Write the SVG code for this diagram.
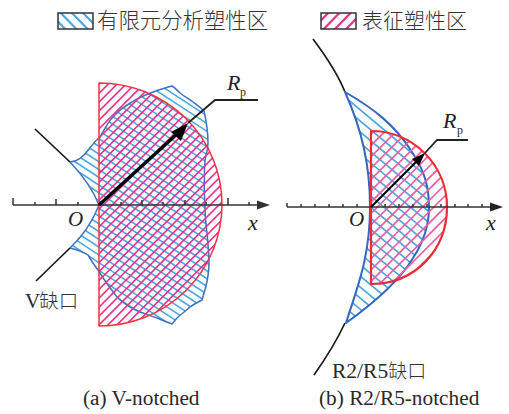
<svg xmlns="http://www.w3.org/2000/svg" width="509" height="414" viewBox="0 0 509 414">
<style>
.blue{fill:none;stroke:#3d72bf;stroke-width:1.5;stroke-linejoin:round}
.blue2{fill:none;stroke:#3268bd;stroke-width:2;stroke-linejoin:round}
.red{fill:none;stroke:#ee3340;stroke-width:1.5;stroke-linejoin:round}
.red2{fill:none;stroke:#ee2a35;stroke-width:2.2;stroke-linejoin:round}
.hb{fill:none;stroke:#4aa8e4}
.hp{fill:none;stroke:#ea2f8c}
.k{fill:none;stroke:#1a1a1a;stroke-width:1.7}
.ax{fill:none;stroke:#333;stroke-width:1.5}
.cn{font-family:"Noto Sans CJK SC",sans-serif;font-weight:300;fill:#333}
.lat{font-family:"Liberation Serif",serif;fill:#2a2a2a}
.it{font-family:"Liberation Serif",serif;font-style:italic;fill:#222}
</style>
<defs>
<path id="sb1" d="M99,205C94,192 85,178 70,162C78,162 84,156 89,149C93,144 96,140 100,137C104,130 108,122 113,117C119,110 125,106 132,102C138,98 143,96 148,94C155,91 162,89 172,86C174,87 177,90 180,93C185,97 189,99 193,102C197,105 200,107 204,111C206,120 208,132 208,143C208,150 206,155 205,160C204,175 204,190 205,207C205,216 206,225 207,233C208,243 209,253 209,263C209,280 205,290 202,300C198,302 194,304 190,307C186,311 181,314 177,318C175,320 174,322 172,324C166,322 162,320 157,318C150,316 146,314 140,312C130,308 123,303 117,297C110,288 104,280 98,270C94,265 91,260 88,255C85,253 78,250 70,248C78,240 84,234 90,223C94,217 96,212 99,205Z"/>
<path id="sr1" d="M99,83A123,121.500 0 0 1 222,204.500A123,121.500 0 0 1 99,326Z"/>
<path id="sb2" d="M345,92C373,108 395,125 412,152C424,170 429,186 429,207C429,225 423,243 413,258C400,280 378,300 346,323C356,290 370,260 370,207C370,165 362,130 345,92Z"/>
<path id="sr2" d="M371,131A76,76 0 0 1 447,207C447,250 415,284 371,284Z"/>
<clipPath id="cb1"><use href="#sb1"/></clipPath>
<clipPath id="cr1"><use href="#sr1"/></clipPath>
<clipPath id="cb2"><use href="#sb2"/></clipPath>
<clipPath id="cr2"><use href="#sr2"/></clipPath>
<clipPath id="cl1"><rect x="58" y="13" width="35" height="16"/></clipPath>
<clipPath id="cl2"><rect x="321" y="13" width="35" height="16"/></clipPath>
</defs>
<g id="legend">
<line class="hb" clip-path="url(#cl1)" x1="54" y1="42" x2="97" y2="0" stroke-width="60" stroke-dasharray="2.200 5.800"/>
<rect x="58" y="13" width="35" height="16" fill="none" stroke="#333" stroke-width="1.5"/>
<text class="cn" x="97" y="28" font-size="21.4">有限元分析塑性区</text>
<line class="hp" clip-path="url(#cl2)" x1="317" y1="0" x2="360" y2="42" stroke-width="60" stroke-dasharray="2.200 5.800"/>
<rect x="321" y="13" width="35" height="16" fill="none" stroke="#333" stroke-width="1.5"/>
<text class="cn" x="362" y="28" font-size="21">表征塑性区</text>
</g>
<g id="panel-a">
<line class="hb" clip-path="url(#cb1)" x1="233" y1="62" x2="47" y2="348" stroke-width="400" stroke-dasharray="1.600 4.900"/>
<use href="#sb1" class="blue"/>
<line class="hp" clip-path="url(#cr1)" x1="33" y1="78" x2="287" y2="332" stroke-width="400" stroke-dasharray="1.600 4.700"/>
<use href="#sr1" class="red"/>
<g>
<path class="k" d="M35,129L70,162M36,281L70,248"/>
<path class="ax" d="M13,205H262M13,198V205M35,202V205M56,199V205M78,202V205M121,202V205M142,200V205M163,202V205M185,200V205M206,202V205M228,198V205M249,202V205"/>
<polygon points="270,205 257,200.500 257,209.500" fill="#333"/>
<path d="M99,205L177,134" fill="none" stroke="#000" stroke-width="3.400"/>
<polygon points="188,123 171,132 181,141" fill="#000"/>
<path d="M188,123L215,100H258" fill="none" stroke="#222" stroke-width="1.800"/>
</g>
<text class="it" x="68" y="226" font-size="21">O</text>
<text class="it" x="248" y="230" font-size="22">x</text>
<text class="it" x="227" y="90" font-size="22">R</text>
<text class="lat" x="240" y="96" font-size="12">p</text>
<text x="25" y="308" font-size="21"><tspan class="lat">V</tspan><tspan class="cn" font-size="19.500" dx="-1">缺口</tspan></text>
<text class="lat" x="83" y="405" font-size="21.300">(a) V-notched</text>
</g>
<g id="panel-b">
<path class="k" d="M313,39C325,55 337,72 345,92M345,323C337,340 326,358 314,375"/>
<line class="hb" clip-path="url(#cb2)" x1="486" y1="92" x2="294" y2="322" stroke-width="300" stroke-dasharray="1.700 6.800"/>
<use href="#sb2" class="blue2"/>
<line class="hp" clip-path="url(#cr2)" x1="334" y1="136" x2="476" y2="278" stroke-width="250" stroke-dasharray="1.700 6.300" style="stroke:#ea5fa3"/>
<use href="#sr2" class="red2"/>
<path class="ax" d="M287,207H490M287,203V207M301,204V207M315,204V207M329,204V207M343,204V207M357,204V207M385,204V207M399,204V207M413,204V207M427,204V207M441,204V207M455,204V207M468,204V207M482,204V207"/>
<polygon points="503,207 490,202.500 490,211.500" fill="#222"/>
<path d="M371,207L416,162" fill="none" stroke="#000" stroke-width="2.200"/>
<polygon points="425,153 412,159 419,166" fill="#000"/>
<path d="M425,153L437,140H468" fill="none" stroke="#222" stroke-width="1.800"/>
<text class="it" x="349" y="226" font-size="21">O</text>
<text class="it" x="486" y="230" font-size="22">x</text>
<text class="it" x="443" y="128" font-size="22">R</text>
<text class="lat" x="457" y="134" font-size="12">p</text>
<text x="332" y="378" font-size="21.500"><tspan class="lat">R2/R5</tspan><tspan class="cn" font-size="19">缺口</tspan></text>
<text class="lat" x="319" y="405" font-size="21.300">(b) R2/R5-notched</text>
</g>
</svg>
